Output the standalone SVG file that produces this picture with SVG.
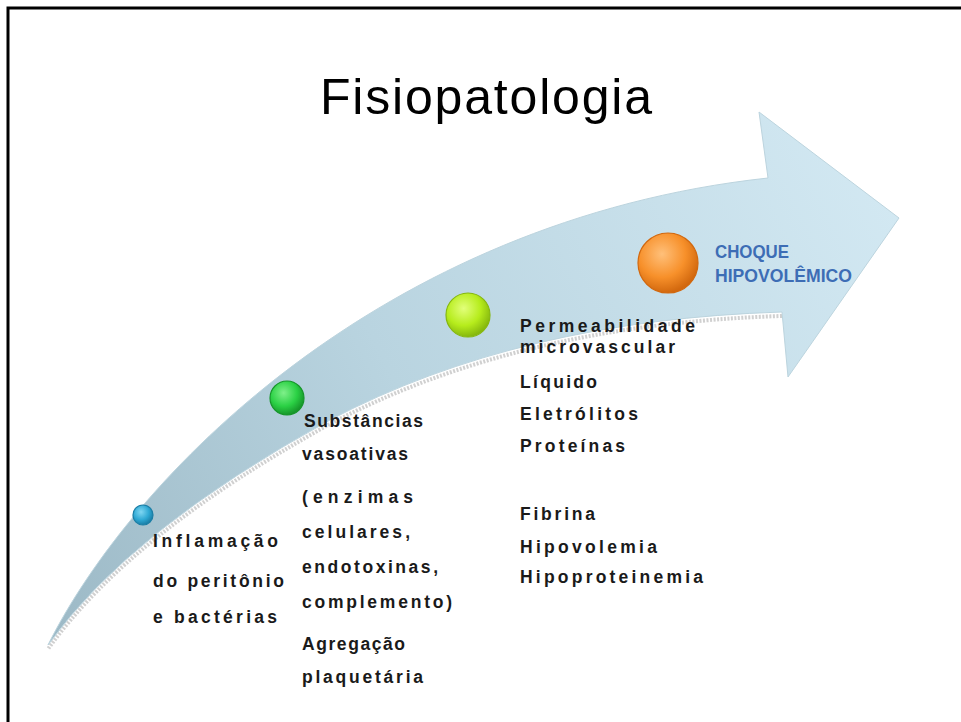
<svg xmlns="http://www.w3.org/2000/svg" width="961" height="722" viewBox="0 0 961 722">
<defs>
<linearGradient id="arrowGrad" gradientUnits="userSpaceOnUse" x1="48" y1="645" x2="899" y2="218">
<stop offset="0" stop-color="#9cb9c6"/>
<stop offset="0.45" stop-color="#b9d4e0"/>
<stop offset="1" stop-color="#d2e8f2"/>
</linearGradient>
<radialGradient id="gBlue" cx="0.4" cy="0.35" r="0.65">
<stop offset="0" stop-color="#7fd6f2"/>
<stop offset="0.6" stop-color="#2fa9d4"/>
<stop offset="1" stop-color="#1a7ea6"/>
</radialGradient>
<radialGradient id="gGreen" cx="0.4" cy="0.35" r="0.65">
<stop offset="0" stop-color="#7ff08a"/>
<stop offset="0.6" stop-color="#2bd145"/>
<stop offset="1" stop-color="#16962a"/>
</radialGradient>
<radialGradient id="gLime" cx="0.4" cy="0.35" r="0.65">
<stop offset="0" stop-color="#e2ff7a"/>
<stop offset="0.6" stop-color="#b6ec1c"/>
<stop offset="1" stop-color="#86b80e"/>
</radialGradient>
<radialGradient id="gOrange" cx="0.4" cy="0.35" r="0.65">
<stop offset="0" stop-color="#ffc07a"/>
<stop offset="0.6" stop-color="#f7902a"/>
<stop offset="1" stop-color="#d2680e"/>
</radialGradient>
</defs>
<style>
.frame{fill:none;stroke:#000;stroke-width:3}
.title{font-family:"Liberation Sans",Arial,sans-serif;font-size:50px;fill:#000}
.lbl{font-family:"Liberation Sans",Arial,sans-serif;font-size:17.5px;font-weight:bold;fill:#1a1a1a}
.end{font-family:"Liberation Sans",Arial,sans-serif;font-size:17.5px;font-weight:bold;fill:#3d6db5}
.shadow{fill:none;stroke:#c4c4c4;stroke-width:4;stroke-dasharray:2 1.5;opacity:0.8}
.dot{stroke-width:1.2}
</style>
<path class="frame" d="M8,722 L8,8 L961,8"/>
<text class="title" x="320" y="114" textLength="332" lengthAdjust="spacing">Fisiopatologia</text>
<g id="arrow">
<path class="shadow" transform="translate(0,4)" d="M782,312 Q520,320 330,420 Q130,530 48,645"/>
<path fill="url(#arrowGrad)" stroke="#bcd4de" stroke-width="1" d="M48,645 C130,480 380,220 768,178 L759,112 L899,218 L788,377 L782,312 Q520,320 330,420 Q130,530 48,645 Z"/>
</g>
<g id="node1">
<circle class="dot" cx="143" cy="515" r="10" fill="url(#gBlue)" stroke="#1a7ea6"/>
<text class="lbl" x="153" y="547" textLength="125" lengthAdjust="spacing">Inflamação</text>
<text class="lbl" x="153" y="587" textLength="131" lengthAdjust="spacing">do peritônio</text>
<text class="lbl" x="153" y="623" textLength="124" lengthAdjust="spacing">e bactérias</text>
</g>
<g id="node2">
<circle class="dot" cx="287" cy="398" r="17" fill="url(#gGreen)" stroke="#16962a"/>
<text class="lbl" x="304" y="427" textLength="119" lengthAdjust="spacing">Substâncias</text>
<text class="lbl" x="302" y="460" textLength="106" lengthAdjust="spacing">vasoativas</text>
<text class="lbl" x="302" y="503" textLength="111" lengthAdjust="spacing">(enzimas</text>
<text class="lbl" x="302" y="538" textLength="108" lengthAdjust="spacing">celulares,</text>
<text class="lbl" x="302" y="573" textLength="136" lengthAdjust="spacing">endotoxinas,</text>
<text class="lbl" x="302" y="608" textLength="150" lengthAdjust="spacing">complemento)</text>
<text class="lbl" x="302" y="650" textLength="103" lengthAdjust="spacing">Agregação</text>
<text class="lbl" x="302" y="683" textLength="121" lengthAdjust="spacing">plaquetária</text>
</g>
<g id="node3">
<circle class="dot" cx="468" cy="315" r="22" fill="url(#gLime)" stroke="#86b80e"/>
<text class="lbl" x="520" y="332" textLength="175" lengthAdjust="spacing">Permeabilidade</text>
<text class="lbl" x="520" y="353" textLength="155" lengthAdjust="spacing">microvascular</text>
<text class="lbl" x="520" y="388" textLength="77" lengthAdjust="spacing">Líquido</text>
<text class="lbl" x="520" y="420" textLength="118" lengthAdjust="spacing">Eletrólitos</text>
<text class="lbl" x="520" y="452" textLength="105" lengthAdjust="spacing">Proteínas</text>
<text class="lbl" x="520" y="520" textLength="75" lengthAdjust="spacing">Fibrina</text>
<text class="lbl" x="520" y="553" textLength="137" lengthAdjust="spacing">Hipovolemia</text>
<text class="lbl" x="520" y="583" textLength="183" lengthAdjust="spacing">Hipoproteinemia</text>
</g>
<g id="node4">
<circle class="dot" cx="668" cy="263" r="30" fill="url(#gOrange)" stroke="#d2680e"/>
<text class="end" x="715" y="258" textLength="74" lengthAdjust="spacingAndGlyphs">CHOQUE</text>
<text class="end" x="715" y="282" textLength="137" lengthAdjust="spacingAndGlyphs">HIPOVOLÊMICO</text>
</g>
</svg>
